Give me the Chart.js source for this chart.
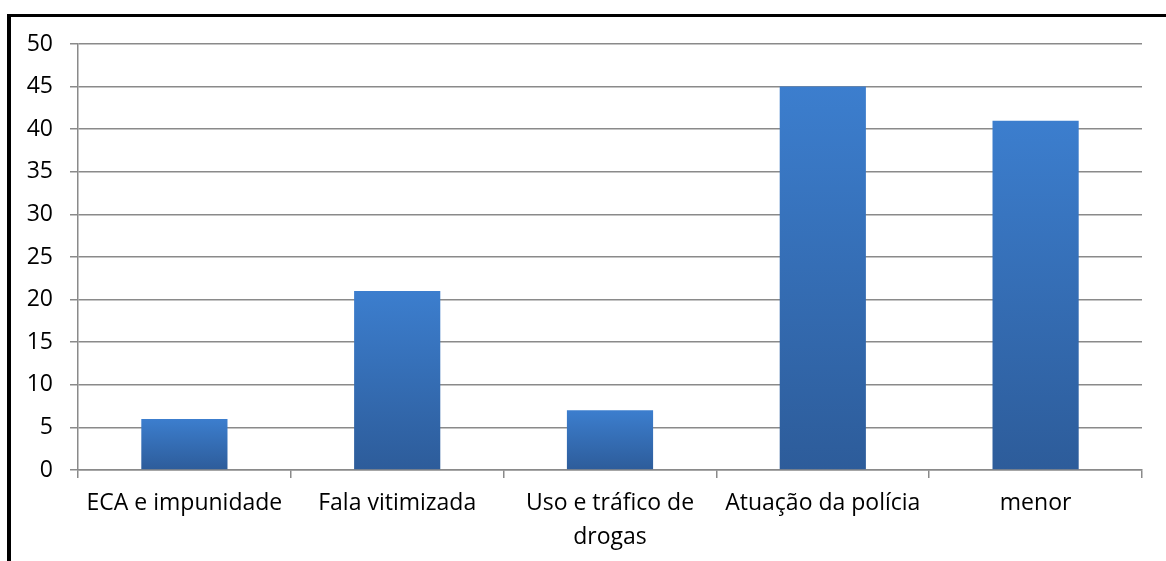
<!DOCTYPE html>
<html lang="pt">
  <head>
    <meta charset="UTF-8" />
    <title>Grafico</title>
    <script src="https://cdn.jsdelivr.net/npm/chart.js"></script>
    <style>
      body { margin: 0; background: #fff; }
      .frame {
        position: absolute; left: 7px; top: 14px; width: 1170px; height: 560px;
        border-top: 3px solid #000; border-left: 4px solid #000;
      }
      .wrap { position: absolute; left: 0; top: 0; width: 1166px; height: 561px; }
    </style>
  </head>
  <body>
    <div class="frame"></div>
    <div class="wrap">
      <canvas id="grafico" width="1166" height="561"></canvas>
    </div>
    <script>
      const categorias = [
        "ECA e impunidade",
        "Fala vitimizada",
        ["Uso e tráfico de", "drogas"],
        "Atuação da polícia",
        "menor",
      ];
      const valores = [6, 21, 7, 45, 41];
      const ticksY = [0, 5, 10, 15, 20, 25, 30, 35, 40, 45, 50];

      const fonte = { family: "'Open Sans', sans-serif", size: 23, lineHeight: 1.45 };

      function gradiente(context) {
        const chart = context.chart;
        const y = chart.scales.y;
        if (!chart.chartArea || !y) return "#3a78c4";
        const v = context.raw;
        const topo = y.getPixelForValue(v);
        const base = y.getPixelForValue(0);
        const g = chart.ctx.createLinearGradient(0, topo, 0, base);
        g.addColorStop(0, "#3c7ece");
        g.addColorStop(1, "#2d5c9a");
        return g;
      }

      new Chart(document.getElementById("grafico"), {
        type: "bar",
        data: {
          labels: categorias,
          datasets: [
            {
              data: valores,
              backgroundColor: gradiente,
              categoryPercentage: 1,
              barPercentage: 0.405,
            },
          ],
        },
        options: {
          responsive: false,
          animation: false,
          layout: { padding: { top: 44, right: 24, left: 0, bottom: 0 } },
          plugins: { legend: { display: false }, tooltip: { enabled: false } },
          scales: {
            x: {
              afterFit: (s) => { s.height = 91; },
              border: { color: "#8a8a8a", width: 1.5 },
              grid: {
                offset: true,
                drawOnChartArea: false,
                tickLength: 8,
                color: "#8a8a8a",
                lineWidth: 1.5,
              },
              ticks: { color: "#000", font: fonte, padding: 9, maxRotation: 0 },
            },
            y: {
              min: 0,
              max: 50,
              afterFit: (s) => { s.width = 78; },
              afterBuildTicks: (s) => { s.ticks = ticksY.map((v) => ({ value: v })); },
              border: { color: "#8a8a8a", width: 1.5 },
              grid: { color: "#8a8a8a", lineWidth: 1.5, tickLength: 8 },
              ticks: { color: "#000", font: fonte, padding: 17 },
            },
          },
        },
      });
    </script>
  </body>
</html>
